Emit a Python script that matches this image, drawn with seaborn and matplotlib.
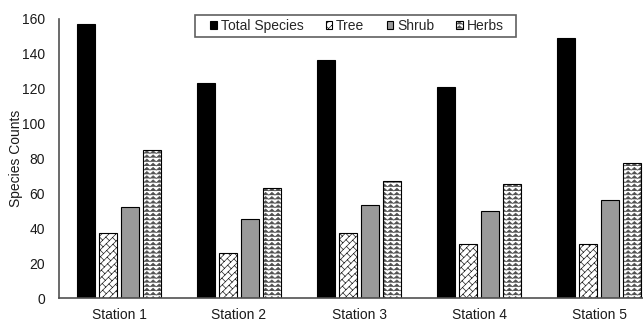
import warnings
import numpy as np
import pandas as pd
import matplotlib
matplotlib.use("Agg")
import matplotlib.pyplot as plt
import matplotlib.hatch as mhatch
from matplotlib.colors import to_rgba
from matplotlib.path import Path
from matplotlib.patches import Rectangle
import seaborn as sns

warnings.filterwarnings("ignore")

# ---- data -------------------------------------------------------------
stations = ["Station 1", "Station 2", "Station 3", "Station 4", "Station 5"]
series = ["Total Species", "Tree", "Shrub", "Herbs"]
total_species = [157, 123, 136, 121, 149]
tree = [37, 26, 37, 31, 31]
shrub = [52, 45, 53, 50, 56]
herbs = [85, 63, 67, 65, 77]
y_ticks = [0, 20, 40, 60, 80, 100, 120, 140, 160]


# ---- custom fill patterns ---------------------------------------------
class ZigzagHatch(mhatch.HatchPatternBase):
    """Horizontal wavy lines, triggered by 'z' in the hatch string."""
    rows = 24
    teeth = 16
    amp = 0.014

    def __init__(self, hatch, density):
        self.num_rows = self.rows if "z" in hatch else 0
        self.num_pts = 2 * self.teeth + 1
        self.num_vertices = self.num_rows * self.num_pts

    def set_vertices_and_codes(self, vertices, codes):
        xs = np.linspace(0.0, 1.0, self.num_pts)
        offs = np.where(np.arange(self.num_pts) % 2 == 0, -self.amp, self.amp)
        for r in range(self.num_rows):
            y0 = (r + 0.5) / self.num_rows
            sl = slice(r * self.num_pts, (r + 1) * self.num_pts)
            vertices[sl, 0] = xs
            vertices[sl, 1] = y0 + offs
            codes[sl] = Path.LINETO
            codes[r * self.num_pts] = Path.MOVETO


class DiagonalBrickHatch(mhatch.HatchPatternBase):
    """Upward diagonal brick pattern, triggered by 'k' in the hatch string."""
    lines = 14   # must be even so the staggering tiles seamlessly
    bricks = 8

    def __init__(self, hatch, density):
        self.segments = self._segments() if "k" in hatch else []
        self.num_vertices = 2 * len(self.segments)

    def _segments(self):
        n, m = self.lines, self.bricks
        segs = []
        for k in range(-n, n + 1):
            c = k / n
            segs.append(((0.0, c), (1.0, 1.0 + c)))
        for k in range(-n, n):
            c0, c1 = k / n, (k + 1) / n
            shift = 0.5 / m if k % 2 else 0.0
            for i in range(-1, 2 * m + 2):
                t = i / m + shift
                segs.append((((t - c0) / 2, (t + c0) / 2),
                             ((t - c1) / 2, (t + c1) / 2)))
        return segs

    def set_vertices_and_codes(self, vertices, codes):
        for j, (p0, p1) in enumerate(self.segments):
            vertices[2 * j] = p0
            vertices[2 * j + 1] = p1
            codes[2 * j] = Path.MOVETO
            codes[2 * j + 1] = Path.LINETO


mhatch._hatch_types.extend([ZigzagHatch, DiagonalBrickHatch])

# ---- styling ----------------------------------------------------------
sns.set_theme(style="white")
plt.rcParams["font.family"] = ["Liberation Sans", "DejaVu Sans"]
plt.rcParams["hatch.linewidth"] = 0.5

W, H = 643, 322
fig = plt.figure(figsize=(W / 100, H / 100), dpi=100)
ax = fig.add_axes([59 / W, 1 - 298 / H, (W - 59) / W, (298 - 18.5) / H])

wide = pd.DataFrame({"Station": stations, "Total Species": total_species,
                     "Tree": tree, "Shrub": shrub, "Herbs": herbs})
long = wide.melt(id_vars="Station", var_name="Group", value_name="Count")

colors = ["black", "white", "#9a9a9a", "white"]
sns.barplot(data=long, x="Station", y="Count", hue="Group",
            order=stations, hue_order=series, palette=colors,
            width=0.733, gap=0.18, edgecolor="black", linewidth=0.8,
            saturation=1, errorbar=None, legend=False, ax=ax)

hatches = ["", "k", "", "z"]
hatch_colors = ["black", "#222222", "black", "#505050"]
for cont, h, hc in zip(ax.containers, hatches, hatch_colors):
    for bar in cont:
        bar.set_hatch(h)
        bar._hatch_color = to_rgba(hc)

ax.set_xlim(-0.5, -0.5 + (W - 59) / 120)
ax.set_ylim(0, 160)
ax.set_yticks(y_ticks)
ax.set_xlabel("")
ax.set_ylabel("Species Counts", fontsize=10, color="#1a1a1a")
ax.yaxis.set_label_coords((23 - 59) / (W - 59), 0.5)

ax.tick_params(axis="both", length=0, labelsize=10, labelcolor="#1a1a1a")
ax.tick_params(axis="y", pad=10)
ax.tick_params(axis="x", pad=7)

for side in ("top", "right"):
    ax.spines[side].set_visible(False)
for side in ("left", "bottom"):
    ax.spines[side].set_color("#505050")
    ax.spines[side].set_linewidth(1.2)

# legend with a plain rectangular frame
fig.patches.append(Rectangle((195 / W, 1 - 37 / H), 321 / W, 22 / H,
                             transform=fig.transFigure, facecolor="white",
                             edgecolor="#606060", linewidth=1.2, zorder=3))
fig.legend(ax.containers, series, loc="center",
           bbox_to_anchor=(357 / W, 1 - 26 / H), ncol=4, frameon=False,
           fontsize=10, handlelength=0.45, handleheight=0.45,
           handletextpad=0.3, columnspacing=1.6)

fig.savefig("out.png", dpi=100)
